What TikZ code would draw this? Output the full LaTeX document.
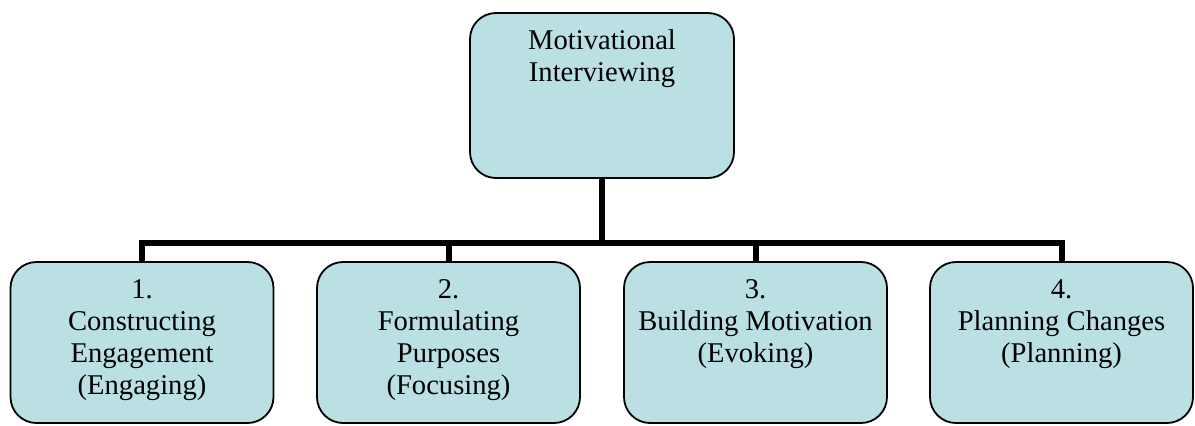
\documentclass[tikz,border=0pt]{standalone}
\usepackage{fontspec}
\setmainfont{Liberation Serif}
\usetikzlibrary{positioning}
\definecolor{boxfill}{RGB}{187,224,227}
\begin{document}
\begin{tikzpicture}
            [x=0.5pt,y=-0.5pt,
             stagebox/.style={draw,line width=0.9pt,fill=boxfill,rounded corners=13pt,
                              minimum width=131.5pt,minimum height=80.5pt,inner sep=0pt},
             stagetxt/.style={align=center,inner sep=0pt,
                              font=\fontsize{14.3pt}{16pt}\selectfont},
             bus/.style={line width=3pt,line join=miter}]
            \useasboundingbox (0,0) rectangle (1195,425);
            \node [stagebox,minimum width=132pt,minimum height=82.5pt] (mi) at (602,95.5) {};
            \node [stagebox] (engage) at (142,342.5) {};
            \node [stagebox] (focus) at (448.5,342.5) {};
            \node [stagebox] (evoke) at (755.5,342.5) {};
            \node [stagebox] (plan) at (1061.5,342.5) {};
            % texts
            \node [stagetxt,below=8.5pt of mi.north] {Motivational\\Interviewing};
            \node [stagetxt,below=9pt of engage.north] {1.\\Constructing\\Engagement\\(Engaging)};
            \node [stagetxt,below=9pt of focus.north] {2.\\Formulating\\Purposes\\(Focusing)};
            \node [stagetxt,below=9pt of evoke.north] {3.\\Building Motivation\\(Evoking)};
            \node [stagetxt,below=9pt of plan.north] {4.\\Planning Changes\\(Planning)};
            % connectors
            \coordinate (fork) at (602,243);
            \draw [bus] (mi.south) -- (fork);
            \draw [bus] (engage.north) |- (fork);
            \draw [bus] (focus.north) |- (fork);
            \draw [bus] (evoke.north) |- (fork);
            \draw [bus] (plan.north) |- (fork);
        \end{tikzpicture}
\end{document}
